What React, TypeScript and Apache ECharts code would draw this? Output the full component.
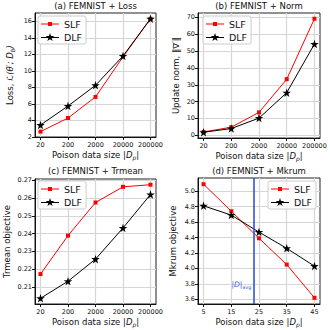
import React, { useEffect, useRef } from "react";
import * as echarts from "echarts";

const sizeCats = ["20", "200", "2000", "20000", "200000"];
const catIdx = [0, 1, 2, 3, 4];

const lossSLF = [2.65, 4.3, 6.85, 11.7, 16.3];
const lossDLF = [3.45, 5.75, 8.25, 11.8, 16.3];
const normSLF = [2.0, 4.8, 13.6, 33.3, 69.2];
const normDLF = [1.8, 4.0, 10.2, 25.3, 54.2];
const trmSLF = [0.2173, 0.2389, 0.2575, 0.2663, 0.2675];
const trmDLF = [0.2037, 0.2133, 0.2257, 0.2432, 0.262];
const mkX = [5, 15, 25, 35, 45];
const mkSLF = [5.09, 4.74, 4.39, 4.05, 3.62];
const mkDLF = [4.81, 4.69, 4.47, 4.26, 4.03];
const dAvg = 23;

const titles = ["(a) FEMNIST + Loss", "(b) FEMNIST + Norm", "(c) FEMNIST + Trmean", "(d) FEMNIST + Mkrum"];
const yTicksA = [2, 4, 6, 8, 10, 12, 14, 16];
const yTicksB = [0, 10, 20, 30, 40, 50, 60, 70];
const yTicksC = [0.21, 0.22, 0.23, 0.24, 0.25, 0.26, 0.27];
const yTicksD = [3.6, 3.8, 4.0, 4.2, 4.4, 4.6, 4.8, 5.0];

const FONT = "DejaVu Sans";
const STAR =
  "path://M50,0 L61.8,35.1 L98.1,35.1 L68.8,56.7 L79.4,91.9 L50,70.3 L20.6,91.9 L31.2,56.7 L1.9,35.1 L38.2,35.1 Z";
const ICON_SLF = "path://M0,4.5 L18,4.5 L18,5.5 L0,5.5 Z M7,3 L11,3 L11,7 L7,7 Z";
const ICON_DLF =
  "path://M0,4.5 L18,4.5 L18,5.5 L0,5.5 Z M9,0.5 L10.01,3.61 L13.28,3.61 L10.64,5.53 L11.65,8.64 L9,6.72 L6.35,8.64 L7.36,5.53 L4.72,3.61 L7.99,3.61 Z";

export default function App() {
  const ref = useRef<HTMLDivElement>(null);
  useEffect(() => {
    if (!ref.current) return;
    const chart = echarts.init(ref.current, null, { renderer: "svg" });

    const grids = [
      { left: 35, top: 13, width: 121, height: 124 },
      { left: 198, top: 13, width: 122, height: 125 },
      { left: 35, top: 179, width: 121, height: 125 },
      { left: 198, top: 178, width: 122, height: 126 },
    ].map((g) => ({ ...g, show: true, borderColor: "#222", borderWidth: 1, backgroundColor: "transparent" }));

    const gridLine = { show: true, lineStyle: { color: "#d6d6d6", width: 1.2 } };
    const xName = {
      name: "Poison data size |{i|D}{s|p}|",
      nameLocation: "middle" as const,
      nameGap: 13,
      nameTextStyle: {
        fontFamily: FONT,
        fontSize: 8.5,
        color: "#111",
        rich: {
          i: { fontFamily: FONT, fontSize: 8.5, fontStyle: "italic", color: "#111" },
          s: { fontFamily: FONT, fontSize: 6, fontStyle: "italic", color: "#111", verticalAlign: "bottom", padding: [4, 0, 0, 0] },
        },
      },
    };
    const axisCommon = {
      axisLine: { show: true, onZero: false, lineStyle: { color: "#111", width: 1 } },
      axisTick: { show: true, length: 3, lineStyle: { color: "#111" } },
      splitLine: gridLine,
    };
    const catX = (gi: number) => ({
      type: "value" as const,
      gridIndex: gi,
      min: -0.2,
      max: 4.2,
      ...axisCommon,
      axisTick: { ...axisCommon.axisTick, customValues: catIdx },
      axisLabel: {
        customValues: catIdx,
        fontFamily: FONT,
        fontSize: 6.5,
        color: "#111",
        margin: 4,
        formatter: (v: number) => sizeCats[Math.round(v)] ?? "",
      },
      ...xName,
    });
    const yAx = (gi: number, min: number, max: number, ticks: number[], name: string, gap: number, digits: number) => ({
      type: "value" as const,
      gridIndex: gi,
      min,
      max,
      ...axisCommon,
      axisTick: { ...axisCommon.axisTick, customValues: ticks },
      axisLabel: {
        customValues: ticks,
        fontFamily: FONT,
        fontSize: 6.5,
        color: "#111",
        margin: 3,
        formatter: (v: number) => v.toFixed(digits),
      },
      name,
      nameLocation: "middle" as const,
      nameGap: gap,
      nameTextStyle: {
        fontFamily: FONT,
        fontSize: 8.5,
        color: "#111",
        rich: {
          i: { fontFamily: FONT, fontSize: 8.5, fontStyle: "italic", color: "#111" },
          s: { fontFamily: FONT, fontSize: 6, fontStyle: "italic", color: "#111", padding: [4, 0, 0, 0] },
        },
      },
    });

    const mk = (v: number[], xs: number[]) => v.map((y, i) => [xs[i], y]);
    const slf = (gi: number, data: number[][]) => ({
      type: "line" as const,
      name: "SLF",
      xAxisIndex: gi,
      yAxisIndex: gi,
      data,
      symbol: "rect",
      symbolSize: 4,
      showSymbol: true,
      itemStyle: { color: "#ff0000" },
      lineStyle: { color: "#ff0000", width: 1 },
      z: 3,
    });
    const dlf = (gi: number, data: number[][]) => ({
      type: "line" as const,
      name: "DLF",
      xAxisIndex: gi,
      yAxisIndex: gi,
      data,
      symbol: STAR,
      symbolSize: 8.5,
      showSymbol: true,
      itemStyle: { color: "#000" },
      lineStyle: { color: "#000", width: 1 },
      z: 4,
    });

    const legend = (left: number, top: number) => ({
      show: true,
      left,
      top,
      orient: "vertical" as const,
      data: [
        { name: "SLF", icon: ICON_SLF, itemStyle: { color: "#ff0000" } },
        { name: "DLF", icon: ICON_DLF, itemStyle: { color: "#000" } },
      ],
      padding: [3, 4, 2, 3],
      itemGap: 3,
      itemWidth: 18,
      itemHeight: 9,
      backgroundColor: "rgba(255,255,255,0.8)",
      borderColor: "#cccccc",
      borderWidth: 1,
      borderRadius: 2,
      selectedMode: false,
      textStyle: { fontFamily: FONT, fontSize: 9.5, color: "#111" },
    });

    const centers = [35 + 121 / 2, 198 + 61, 35 + 121 / 2, 198 + 61];
    const tops = [1, 1, 166, 166];

    chart.setOption({
      animation: false,
      backgroundColor: "#fff",
      title: titles.map((t, i) => ({
        text: t,
        left: centers[i],
        top: tops[i],
        textAlign: "center",
        padding: 0,
        textStyle: { fontFamily: FONT, fontSize: 8.5, fontWeight: "normal", color: "#111" },
      })),
      grid: grids,
      legend: [legend(38, 16), legend(203, 16), legend(38, 181), legend(268, 181)],
      xAxis: [
        catX(0),
        catX(1),
        catX(2),
        {
          type: "value",
          gridIndex: 3,
          min: 3,
          max: 47,
          ...axisCommon,
          axisTick: { ...axisCommon.axisTick, customValues: mkX },
          axisLabel: { customValues: mkX, fontFamily: FONT, fontSize: 6.5, color: "#111", margin: 4 },
          ...xName,
        },
      ],
      yAxis: [
        yAx(0, 2, 17, yTicksA, "Loss, {i|ℒ(θ′; D}{s|b}{i|)}", 20, 0),
        yAx(1, -1.6, 72.6, yTicksB, "Update norm, ‖∇′‖", 18, 0),
        yAx(2, 0.2005, 0.2707, yTicksC, "Trmean objective", 24, 2),
        yAx(3, 3.54, 5.17, yTicksD, "Mkrum objective", 21, 1),
      ],
      series: [
        slf(0, mk(lossSLF, catIdx)),
        dlf(0, mk(lossDLF, catIdx)),
        slf(1, mk(normSLF, catIdx)),
        dlf(1, mk(normDLF, catIdx)),
        slf(2, mk(trmSLF, catIdx)),
        dlf(2, mk(trmDLF, catIdx)),
        {
          ...slf(3, mk(mkSLF, mkX)),
          markLine: {
            silent: true,
            symbol: "none",
            label: { show: false },
            lineStyle: { color: "#1f49e0", width: 1.5, type: "solid" },
            data: [{ xAxis: dAvg }],
          },
          markPoint: {
            silent: true,
            symbol: "circle",
            symbolSize: 0,
            data: [
              {
                coord: [dAvg, 3.79],
                label: {
                  show: true,
                  position: "left",
                  distance: 2,
                  formatter: "|{i|D}|{s|avg}",
                  color: "#3b63e6",
                  fontFamily: FONT,
                  fontSize: 7.5,
                  rich: {
                    i: { fontFamily: FONT, fontSize: 7.5, fontStyle: "italic", color: "#3b63e6" },
                    s: { fontFamily: FONT, fontSize: 5, color: "#3b63e6", padding: [4, 0, 0, 0] },
                  },
                },
              },
            ],
          },
        },
        dlf(3, mk(mkDLF, mkX)),
      ],
    });
    return () => chart.dispose();
  }, []);
  return <div ref={ref} style={{ position: "fixed", left: 0, top: 0, width: 330, height: 330 }} />;
}
